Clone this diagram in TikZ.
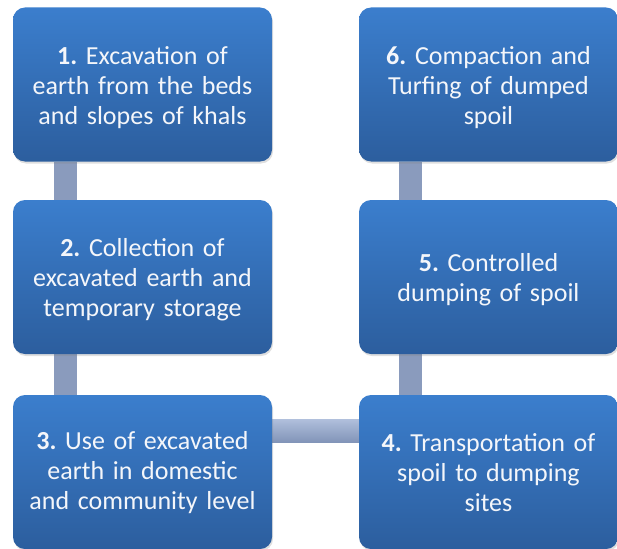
\documentclass[tikz,border=0pt]{standalone}
\usepackage{fontspec}
\setmainfont{Carlito}
\frenchspacing
\usetikzlibrary{shadows,backgrounds}
\definecolor{boxtop}{HTML}{3B7ECD}
\definecolor{boxbot}{HTML}{2C5E9E}
\definecolor{conn}{HTML}{8A9BBD}
\definecolor{connlight}{HTML}{AFBEDB}
\definecolor{conndark}{HTML}{8093B7}
\definecolor{txt}{HTML}{F4F6FA}
\tikzset{
  stepbox/.style={rectangle, rounded corners=12pt, minimum width=259pt, minimum height=154pt,
    top color=boxtop, bottom color=boxbot, draw=none, text=txt, align=center,
    text width=255pt, inner xsep=0pt, inner ysep=0pt, font=\fontsize{26}{30}\selectfont,
    drop shadow={opacity=0.25, shadow xshift=1pt, shadow yshift=-2pt}},
  steptext/.style={text=txt, align=center, text width=255pt, inner sep=0pt,
    font=\fontsize{26}{30}\selectfont},
  vconn/.style={line width=23pt, draw=conn},
}
\begin{document}
\begin{tikzpicture}[x=1pt,y=-1pt]
\useasboundingbox (0,0) rectangle (617,548);
\node[stepbox] (b1) at (142.5,84.5) {};
\node[stepbox] (b2) at (142.5,277) {};
\node[stepbox] (b3) at (142.5,472) {};
\node[stepbox] (b4) at (488.5,472) {};
\node[stepbox] (b5) at (488.5,277) {};
\node[stepbox] (b6) at (488.5,84.5) {};
\node[steptext] (t1) at ([yshift=-3pt]b1.center) {\textbf{1.} Excavation of\\earth from the beds\\and slopes of khals};
\node[steptext] (t2) at ([yshift=-3pt]b2.center) {\textbf{2.} Collection of\\excavated earth and\\temporary storage};
\node[steptext] (t3) at ([yshift=-1pt]b3.center) {\textbf{3.} Use of excavated\\earth in domestic\\and community level};
\node[steptext] (t4) at ([yshift=-1pt]b4.center) {\textbf{4.} Transportation of\\spoil to dumping\\sites};
\node[steptext] (t5) at ([yshift=-3pt]b5.center) {\textbf{5.} Controlled\\dumping of spoil};
\node[steptext] (t6) at ([yshift=-3pt]b6.center) {\textbf{6.} Compaction and\\Turfing of dumped\\spoil};
\begin{scope}[on background layer]
\draw[vconn] ([xshift=52.5pt]b1.south west) -- ([xshift=52.5pt]b2.north west);
\draw[vconn] ([xshift=52.5pt]b2.south west) -- ([xshift=52.5pt]b3.north west);
\draw[vconn] ([xshift=52pt]b4.north west) -- ([xshift=52pt]b5.south west);
\draw[vconn] ([xshift=52pt]b5.north west) -- ([xshift=52pt]b6.south west);
\path[top color=connlight, bottom color=conndark] ([yshift=-25pt]b3.north east) rectangle ([yshift=-48pt]b4.north west);
\end{scope}
\end{tikzpicture}
\end{document}
